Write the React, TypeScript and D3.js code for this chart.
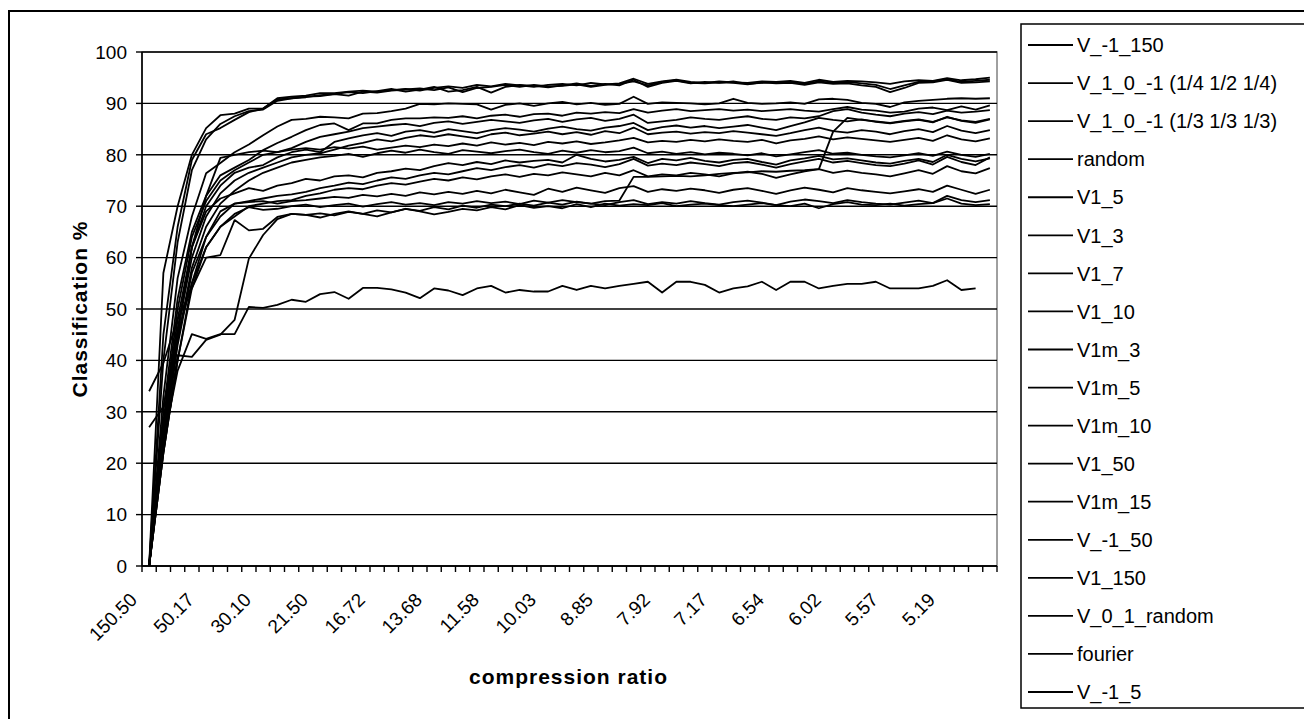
import React from "react";
import * as d3 from "d3";

// compression ratios, one per category (label shown on every 4th)
const categories = [
  "150.50", "100.33", "75.25", "60.20", "50.17", "43.00", "37.63", "33.44", "30.10", "27.36",
  "25.08", "23.15", "21.50", "20.07", "18.81", "17.71", "16.72", "15.84", "15.05", "14.33",
  "13.68", "13.09", "12.54", "12.04", "11.58", "11.15", "10.75", "10.38", "10.03", "9.71",
  "9.41", "9.12", "8.85", "8.60", "8.36", "8.14", "7.92", "7.72", "7.53", "7.34",
  "7.17", "7.00", "6.84", "6.69", "6.54", "6.40", "6.27", "6.14", "6.02", "5.90",
  "5.79", "5.68", "5.57", "5.47", "5.38", "5.28", "5.19", "5.10", "5.02", "4.93",
];

const yTicks = [0, 10, 20, 30, 40, 50, 60, 70, 80, 90, 100];

const seriesNames = [
  "V_-1_150", "V_1_0_-1 (1/4 1/2 1/4)", "V_1_0_-1 (1/3 1/3 1/3)", "random", "V1_5", "V1_3",
  "V1_7", "V1_10", "V1m_3", "V1m_5", "V1m_10", "V1_50", "V1m_15", "V_-1_50", "V1_150",
  "V_0_1_random", "fourier", "V_-1_5",
];

const vM1_150 = [0,57,70,80,85.2,87.7,88,89,89,91,91.3,91.5,92, 92,92.3,92.5,92.3,92.6,92.8,92.5,93,93.3,93,93.6,93.3, 93.8,93.5,93.2,93.6,93.8,93.5,94,93.7,93.9,94.8,93.8,94.3, 94.6,94.2,94,94.3,94.1,94,94.3,94.2,94.4,94,94.6,94.2, 94.4,94.3,94.1,93.8,94.3,94.5,94.4,94.9,94.5,94.7,95];
const v10m1Quarter = [0,45,66,79,84,85.2,86.8,88.3,89,90.8,91,91.2,91.6, 91.8,92.2,92,92.4,92.8,92.3,92.7,93.2,92.3,92.6,93.2,92.1, 93.2,93.6,93.4,93.1,93.5,93.9,93.4,93.8,93.5,94.6,93.2,94, 94.4,93.9,94.2,94,94.3,93.8,94,94.1,94.2,93.8,94.3,94, 94.2,93.9,93.6,92.8,93.5,94.2,94.3,94.7,94.2,94.4,94.6];
const v10m1Third = [0,40,63,77,83,86,87.5,88.5,88.8,90.5,91,91.3,91.4, 91.8,91.5,92.3,92.1,92.5,92.7,92.9,92.6,93.1,92.2,93,93.2, 93.6,93.2,93.6,93.3,93.4,93.7,93.2,93.6,93.8,94.3,93.5,94.2, 94.5,94,93.9,94.1,94,93.7,94.1,93.9,94,93.6,94.1,93.8, 93.9,93.5,93.2,92.2,93,94,94.1,94.6,94,94.1,94.3];
const random = [34,39.5,48,54,60,60.5,67.3,65.3,65.6,67.9,68.5,68.3,68.6, 68.2,68.9,68.5,69.2,68.8,69.5,69.1,69.8,69.4,70.1,69.7,70.3, 70,70.5,70.1,70.7,70.3,70.9,70.5,70.2,70.8,71.2,70.4,70.8, 70.5,71,70.6,70.3,70.8,71.1,70.7,70.2,70.9,71.3,71,70.6, 71.2,70.8,70.5,70.3,70.7,71.1,70.6,72,71.2,70.8,71.2];
const v1_5 = [0,30,52,65,72,76,77.5,79,80.9,82.3,83.5,84.8,85.8, 86.1,84.8,86.1,86.1,86.8,87.1,87.1,87.3,87.2,87.5,87.1,87.6, 87.8,87.4,87.9,88,87.6,88.2,88,88.3,88.1,88.9,88.2,88.6, 88.9,88.5,88.7,88.9,88.6,88.8,88.5,88.7,88.9,88.6,88.4,88.9, 89.3,88.8,88.6,88.2,88.4,89,89.2,88.7,89.4,88.8,89.6];
const v1_3 = [0,28,50,64,71,75,77,78.5,80,80.5,81.3,82.5,83.5, 84,84.5,85.2,85.5,85.8,86,85.6,86.2,86.5,86,86.4,86.8, 86.5,86.2,86.7,87,86.4,86.9,87.2,86.6,87,87.8,86.2,86.5, 86.8,87.3,87,86.8,87.2,87.5,87,86.8,87.3,87.1,87.5,88.5, 88.9,88.2,87.8,87.5,88,88.3,87.9,88.6,88.2,88.4,88.7];
const v1_7 = [0,27,48,62,70,74,76.5,77.5,78,79.5,80.5,81,80.5, 82.5,83.2,83.8,84.2,83.7,84.5,84.8,84.3,85,84.6,84.2,84.8, 85.2,84.9,84.5,85.1,85.5,85,84.7,85.3,85.6,86.2,84.8,85.4, 85.7,85.3,85.6,85.2,85.5,85.8,85.3,84.8,85.6,86.3,87.2,86.8, 86.5,86.9,86.4,86.1,86.5,86.8,86.3,87.4,86.6,86.2,86.9];
const v1_10 = [0,26,46,60,68,72.5,75,76.5,77.5,78.5,79.5,80,80.3, 81,81.8,82.3,83,82.6,83.3,83.8,83.5,84,83.6,83.2,84, 84.3,83.8,84.1,84.5,84,84.4,83.9,84.6,84.2,85.3,84,84.3, 84.5,84.1,84.4,84.2,84.6,84.3,84,83.7,84.2,84.8,85.3,84.6, 84.3,84.8,84.5,84,84.6,85,84.4,85.6,84.7,84.2,84.8];
const v1m_3 = [0,33,56,68,76.4,78.4,80.5,82,83.8,85.5,86.8,87,87.4, 87.3,87.1,88,88.1,88.5,89,89.9,89.8,90,89.9,89.8,88.8, 89.7,90,89.5,90,90.3,89.8,90.1,89.7,89.9,91.3,89.9,90.2, 90.1,90,89.8,90,90.9,90.1,89.9,90,90.2,89.9,90.8,90.9, 90.7,90.1,89.9,89.3,90.2,90.5,90.7,90.9,91,90.9,91];
const v1m_5 = [0,25,45,62,72,79.4,80,80.5,80.8,80.5,81,81.3,81, 81.5,81.2,81.6,81,81.4,81.8,81.5,82,81.7,82.2,81.8,82.4, 82,82.3,81.9,82.5,82.2,82.6,82.1,82.4,82.8,83.3,82.4,82.7, 82.5,82.9,82.6,83,82.7,82.5,82.9,82.2,82.8,83.1,83.6,83, 83.4,83.1,82.8,82.5,82.9,83.3,82.7,83.8,83,82.6,83.2];
const v1m_10 = [0,24,44,58,66,70.5,73,75,76.5,77.5,78.5,79,79.5, 79.8,80.2,79.6,80.3,80.8,80.4,81,80.5,80.2,80.9,80.6,80.3, 80.7,81,80.5,80.2,80.8,80.4,80.9,80.5,80.7,81.4,80.3,80.6, 80.2,80.5,80.1,80.4,80.2,79.9,80.3,79.7,80.1,80.5,80.9,80.2, 80.4,80,79.7,79.5,79.9,80.3,79.8,80.6,80,79.6,80.2];
const v1_50 = [0,24,46,62,69,71.5,72.5,73.5,73,74,74.5,75.3,75, 75.8,76,75.6,76.5,76.8,77.3,77,77.8,78.4,78,78.6,78.2, 78.9,78.5,78.8,79,78.5,80,79.2,78.7,79,79.6,78.4,79.2, 78.9,79.4,78.8,78.5,79,79.2,78.6,78.1,78.9,79.3,79.8,79.1, 79.3,78.9,78.5,78.3,78.8,79.2,78.6,80,79.2,78.7,79.3];
const v1m_15 = [0,23,43,57,64,68,70.5,71,71.5,72,72.3,72.8,73.5, 74,74.6,74.3,75,75.6,75.3,76,76.5,76.2,76.8,77.4,77, 77.6,78,77.5,78.2,77.8,78.4,78.1,77.6,78.2,79.2,77.9,78.3, 78,78.5,78.2,77.8,78.4,78.6,78.1,77.5,78.2,78.7,79.2,78.5, 78.8,78.4,78,77.8,78.3,78.9,78.1,79.6,78.6,78,79.5];
const vM1_50 = [0,22,40,54,62,66,68.5,69.8,69.3,69.5,70,70.3,69.8, 70.2,70.5,69.9,70.4,70.8,70.3,70.6,70.2,70.8,70.5,71,70.6, 70.9,70.4,71.1,70.7,71.2,70.8,70.5,71,71.1,75.7,75.7,75.8, 75.9,75.8,76,76.3,76.5,76.6,76.8,76.7,76.9,77,77.2,84.5, 87.2,86.8,86.5,86.2,86.6,86.9,86.4,87.3,86.7,86.4,87];
const v1_150 = [0,22,40,55,64,69,70.5,70.8,71,70.5,71,71.2,71.5, 71.8,71.6,72.2,71.9,72.4,72,72.7,72.3,72.8,72.4,73,72.5, 73.2,72.7,72.2,73.4,72.8,73.6,73.1,72.6,73.5,73.9,72.8,73.3, 73,73.4,73.1,72.6,73.2,73.5,73,72.4,73.1,73.6,73.2,72.7, 73.5,73.1,72.8,72.5,72.9,73.3,72.8,74,73.2,72.4,73.2];
const v01Random = [27,31,45,55,62,66,68,70,70.5,71,71.2,72,72.5, 73.2,73.5,73.3,74,74.5,74.2,74.8,75.3,75,75.6,75.2,75.8, 76.2,75.7,76.3,76,76.6,76.2,75.8,76.5,76,77,75.8,76.2, 76,76.5,76.2,75.8,76.4,76.7,76.3,75.5,76.2,76.8,77.2,76.5, 76.9,76.5,76.2,75.8,76.4,77,76.3,77.8,76.8,76.4,77.4];
const fourier = [0,24,38,45.1,44.2,45.1,45.1,50.4,50.2,50.8,51.8,51.4,52.9, 53.3,52,54.1,54.1,53.8,53.2,52.1,54,53.6,52.7,54,54.5, 53.2,53.7,53.4,53.4,54.5,53.7,54.5,54,54.5,54.9,55.3,53.2, 55.3,55.3,54.7,53.2,54,54.4,55.3,53.7,55.3,55.3,54,54.5, 54.9,54.9,55.3,54,54,54,54.5,55.6,53.7,54,null];
const vM1_5 = [0,22,41,40.7,44,45,47.9,59.8,64.4,67.5,68.5,68.3,67.8, 68.5,69,68.5,68,68.8,69.5,69,68.4,68.9,69.5,69.2,69.8, 69.4,70.2,69.7,70,69.6,70.4,69.8,70.5,70.1,70.4,70.2,70.6, 70,70.3,70.5,70.2,70,70.3,70.6,70.2,70,70.5,69.6,70.4, 70.8,70.3,70.2,70.5,70.1,70.4,70.6,71.5,70.5,70.2,70.4];

const seriesValues: (number | null)[][] = [
  vM1_150, v10m1Quarter, v10m1Third, random, v1_5, v1_3, v1_7, v1_10, v1m_3,
  v1m_5, v1m_10, v1_50, v1m_15, vM1_50, v1_150, v01Random, fourier, vM1_5,
];

const W = 1304;
const H = 719;
const plot = { left: 142, right: 997, top: 52, bottom: 566 };
const font = "'Liberation Sans', Arial, sans-serif";

export default function App() {
  const x = d3.scaleBand<string>().domain(categories).range([plot.left, plot.right]);
  const y = d3.scaleLinear().domain([0, 100]).range([plot.bottom, plot.top]);
  const bw = x.bandwidth();
  const cx = (i: number) => (x(categories[i]) as number) + bw / 2;

  const line = d3
    .line<number | null>()
    .defined((d) => d != null)
    .x((_, i) => cx(i))
    .y((d) => y(d as number));

  const legendTop = 45;
  const legendStep = 38.06;

  return (
    <div style={{ position: "fixed", left: 0, top: 0, width: W, height: H, background: "#fff" }}>
      <svg width={W} height={H} viewBox={`0 0 ${W} ${H}`} style={{ display: "block" }}>
        <rect x={0} y={0} width={W} height={H} fill="#fff" />
        {/* chart border */}
        <rect x={9} y={11} width={1400} height={800} fill="none" stroke="#000" strokeWidth={2} />

        {/* plot area border */}
        <rect
          x={plot.left}
          y={plot.top}
          width={plot.right - plot.left}
          height={plot.bottom - plot.top}
          fill="none"
          stroke="#808080"
          strokeWidth={1.5}
        />

        {/* gridlines */}
        {yTicks.map((t) => (
          <line key={t} x1={plot.left} x2={plot.right} y1={y(t)} y2={y(t)} stroke="#000" strokeWidth={1.4} />
        ))}

        {/* y axis */}
        <line x1={plot.left} x2={plot.left} y1={plot.top} y2={plot.bottom} stroke="#000" strokeWidth={1.6} />
        {yTicks.map((t) => (
          <g key={"yt" + t}>
            <line x1={plot.left - 6} x2={plot.left} y1={y(t)} y2={y(t)} stroke="#000" strokeWidth={1.4} />
            <text
              x={plot.left - 15}
              y={y(t)}
              dy="0.36em"
              textAnchor="end"
              fontFamily={font}
              fontSize={19}
              fill="#000"
            >
              {t}
            </text>
          </g>
        ))}

        {/* x axis */}
        <line x1={plot.left} x2={plot.right} y1={plot.bottom} y2={plot.bottom} stroke="#000" strokeWidth={1.6} />
        {d3.range(categories.length + 1).map((k) => (
          <line
            key={"xt" + k}
            x1={plot.left + k * bw}
            x2={plot.left + k * bw}
            y1={plot.bottom}
            y2={plot.bottom + 6}
            stroke="#000"
            strokeWidth={1.4}
          />
        ))}
        {categories.map((c, i) =>
          i % 4 === 0 ? (
            <text
              key={"xl" + c}
              transform={`translate(${cx(i) - 11},${601}) rotate(-45)`}
              textAnchor="end"
              fontFamily={font}
              fontSize={19}
              fill="#000"
            >
              {c}
            </text>
          ) : null
        )}

        {/* series */}
        {seriesValues.map((vals, s) => (
          <path key={seriesNames[s]} d={line(vals) || ""} fill="none" stroke="#000" strokeWidth={1.8} strokeLinejoin="round" />
        ))}

        {/* axis titles */}
        <text
          x={(plot.left + plot.right) / 2 - 1}
          y={684}
          textAnchor="middle"
          fontFamily={font}
          fontSize={21}
          fontWeight="bold"
          letterSpacing={1}
          fill="#000"
        >
          compression ratio
        </text>
        <text
          transform={`translate(87,${(plot.top + plot.bottom) / 2}) rotate(-90)`}
          textAnchor="middle"
          fontFamily={font}
          fontSize={21}
          fontWeight="bold"
          letterSpacing={1}
          fill="#000"
        >
          Classification %
        </text>

        {/* legend */}
        <rect x={1021} y={24} width={400} height={684} fill="#fff" stroke="#000" strokeWidth={1.5} />
        {seriesNames.map((name, i) => {
          const ly = legendTop + i * legendStep;
          return (
            <g key={"lg" + name}>
              <line x1={1028} x2={1073} y1={ly} y2={ly} stroke="#000" strokeWidth={1.8} />
              <text x={1077} y={ly} dy="0.36em" fontFamily={font} fontSize={20} fill="#000">
                {name}
              </text>
            </g>
          );
        })}
      </svg>
    </div>
  );
}
